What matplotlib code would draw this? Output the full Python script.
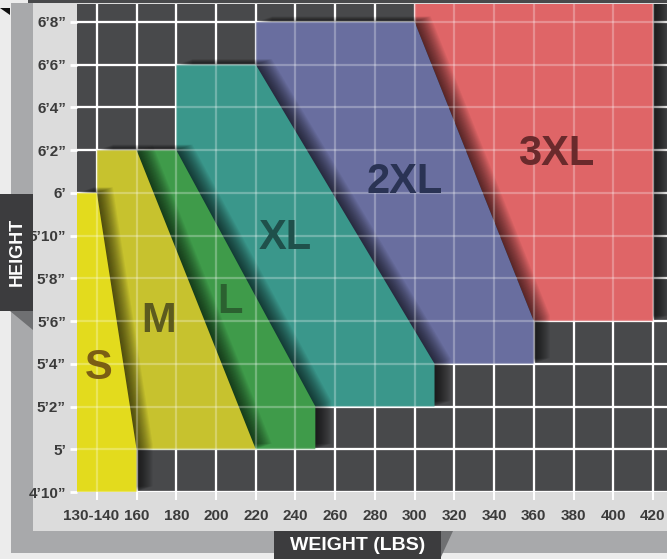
import matplotlib

matplotlib.use("Agg")
import numpy as np
from matplotlib import pyplot as plt
from matplotlib.patches import Polygon, Rectangle
from matplotlib.transforms import ScaledTranslation

plt.rcParams["font.family"] = ["Liberation Sans", "DejaVu Sans"]
plt.rcParams["font.weight"] = "bold"

# size regions, back to front (weight lbs, height inches)
sizes = ["3XL", "2XL", "XL", "L", "M", "S"]
weights = {
    "3XL": [300, 420, 420, 360, 300],
    "2XL": [220, 360, 360, 300, 220],
    "XL": [180, 310, 310, 220, 180],
    "L": [160, 250, 250, 180, 160],
    "M": [140, 220, 160, 140],
    "S": [130, 160, 160, 140, 130],
}
heights = {
    "3XL": [81, 81, 66, 66, 80],
    "2XL": [64, 64, 66, 80, 80],
    "XL": [62, 62, 64, 78, 78],
    "L": [60, 60, 62, 74, 74],
    "M": [60, 60, 74, 74],
    "S": [58, 58, 60, 72, 72],
}
label_pos = {
    "3XL": (371, 73.8),
    "2XL": (295, 72.5),
    "XL": (235, 69.9),
    "L": (207, 66.9),
    "M": (171, 66.0),
    "S": (141, 63.8),
}
fill_colors = {
    "3XL": "#DF6567",
    "2XL": "#696E9F",
    "XL": "#3A978B",
    "L": "#3F9B4A",
    "M": "#C7C22E",
    "S": "#E3DB1D",
}
text_colors = {
    "3XL": "#6A2A2C",
    "2XL": "#2A3354",
    "XL": "#1F504B",
    "L": "#2B6130",
    "M": "#5C5A1E",
    "S": "#7B5E14",
}

weight_ticks = [140, 160, 180, 200, 220, 240, 260, 280, 300, 320, 340, 360, 380, 400, 420]
weight_labels = ["130-140"] + [str(w) for w in weight_ticks[1:]]
height_ticks = [58, 60, 62, 64, 66, 68, 70, 72, 74, 76, 78, 80]
height_labels = ["4’10”", "5’", "5’2”", "5’4”", "5’6”", "5’8”", "5’10”",
                 "6’", "6’2”", "6’4”", "6’6”", "6’8”"]

W, H = 667, 559
fig = plt.figure(figsize=(W / 100, H / 100), dpi=100)
fig.patch.set_facecolor("#ECECEC")

# frame drawn in pixel coordinates
bg = fig.add_axes([0, 0, 1, 1], zorder=-1)
bg.set_xlim(0, W)
bg.set_ylim(H, 0)
bg.axis("off")
bg.add_patch(Rectangle((11, 3), W, 550, facecolor="#A8A9AB", edgecolor="none"))
bg.add_patch(Rectangle((33, 3), W, 528, facecolor="#DCDCDC", edgecolor="none"))
bg.add_patch(Rectangle((28, 0), W, 2.5, facecolor="#48494B", edgecolor="none"))
bg.add_patch(Polygon([(0, 8), (10, 8), (10, 15)], facecolor="#111111", edgecolor="none"))
bg.add_patch(Rectangle((0, 194), 33, 117, facecolor="#3C3C3E", edgecolor="none"))
bg.add_patch(Polygon([(10, 311), (33, 311), (33, 330)], facecolor="#6F7072", edgecolor="none"))
bg.text(17, 252, "HEIGHT", rotation=90, ha="center", va="center",
        color="white", fontsize=13, fontweight="bold")
bg.add_patch(Rectangle((274, 531), 167, 30, facecolor="#3C3C3E", edgecolor="none"))
bg.add_patch(Polygon([(441, 531), (453, 531), (441, 557)], facecolor="#6F7072", edgecolor="none"))
bg.text(358, 546, "WEIGHT (LBS)", ha="center", va="center",
        color="white", fontsize=14, fontweight="bold")

# chart area
left, right, top, bottom = 77, 667, 4, 492
ax = fig.add_axes([left / W, (H - bottom) / H, (right - left) / W, (bottom - top) / H])
ax.set_facecolor("#48494B")
px_per_lb = (653 - left) / (420 - 130)
px_per_in = (bottom - 22) / (80 - 58)
ax.set_xlim(130, 130 + (right - left) / px_per_lb)
ax.set_ylim(58, 58 + (bottom - top) / px_per_in)
for spine in ax.spines.values():
    spine.set_visible(False)

grid_kw = dict(color="white", linewidth=1.6)
ax.vlines(weight_ticks, 0, 1, transform=ax.get_xaxis_transform(), zorder=1, **grid_kw)
ax.hlines(height_ticks, 0, 1, transform=ax.get_yaxis_transform(), zorder=1, **grid_kw)

for i, size in enumerate(sizes):
    pts = np.column_stack([weights[size], heights[size]])
    for k in range(1, 17):
        shift = ScaledTranslation(k * 1.0 / 100, k * 0.35 / 100, fig.dpi_scale_trans)
        ax.add_patch(Polygon(pts, closed=True, facecolor="black", alpha=0.05,
                             edgecolor="none", transform=ax.transData + shift,
                             zorder=2 + 2 * i))
    ax.add_patch(Polygon(pts, closed=True, facecolor=fill_colors[size],
                         edgecolor="none", zorder=3 + 2 * i))
    x, y = label_pos[size]
    ax.text(x, y, size, ha="center", va="center", fontsize=30,
            fontweight="bold", color=text_colors[size], zorder=30)

overlay_kw = dict(color="white", linewidth=1.6, alpha=0.28)
ax.vlines(weight_ticks, 0, 1, transform=ax.get_xaxis_transform(), zorder=20, **overlay_kw)
ax.hlines(height_ticks, 0, 1, transform=ax.get_yaxis_transform(), zorder=20, **overlay_kw)

ax.set_xticks(weight_ticks, labels=weight_labels)
ax.set_yticks(height_ticks, labels=height_labels)
ax.tick_params(axis="x", length=6, width=1.5, color="white", pad=6,
               labelsize=11, labelcolor="#3B3B3B")
ax.tick_params(axis="y", length=5, width=2, color="white", pad=3,
               labelsize=11, labelcolor="#3B3B3B")
first = ax.get_xticklabels()[0]
first.set_transform(first.get_transform() + ScaledTranslation(-6 / 100, 0, fig.dpi_scale_trans))

fig.savefig("out.png", dpi=100)
